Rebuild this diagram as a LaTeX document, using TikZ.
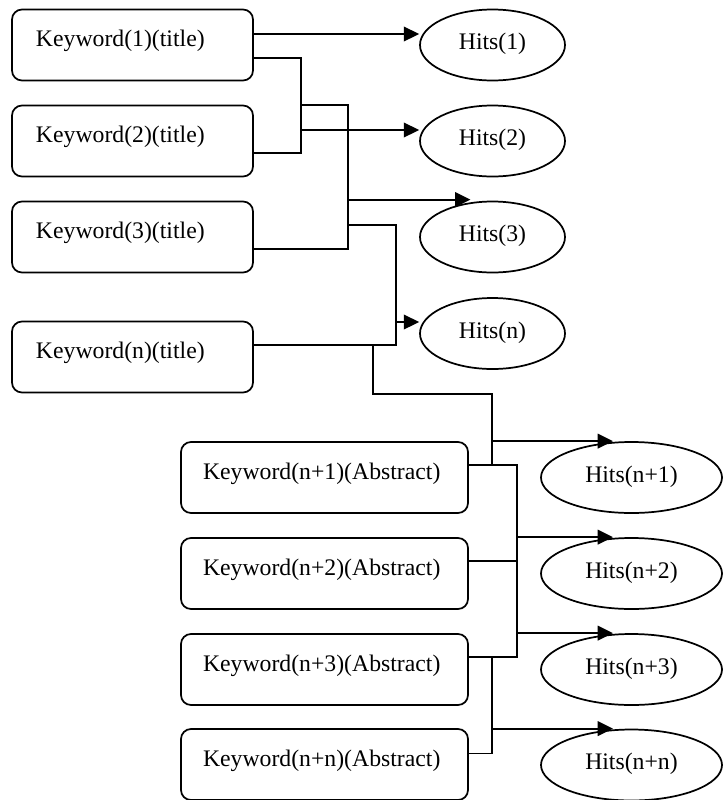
\documentclass[tikz,border=0pt]{standalone}
\usepackage{fontspec}
\setmainfont{Liberation Serif}
\usetikzlibrary{shapes.geometric,arrows.meta,calc}
\begin{document}
\begin{tikzpicture}[x=0.75pt,y=-0.75pt,
  every node/.style={font=\fontsize{17.8pt}{21pt}\selectfont},
  tbox/.style={draw,line width=1.3pt,rounded corners=7.5pt,inner ysep=0pt,
    inner xsep=18pt,text width=144.75pt,align=left,minimum height=53.25pt,
    text height=13pt,text depth=10.4pt},
  abox/.style={draw,line width=1.3pt,rounded corners=7.5pt,inner ysep=0pt,
    inner xsep=16.5pt,text width=182.25pt,align=left,minimum height=53.25pt,
    text height=13pt,text depth=10.4pt},
  hell/.style={draw,ellipse,line width=1.3pt,inner sep=0pt,minimum width=108.75pt,
    minimum height=53.25pt,text height=13pt,text depth=6.2pt},
  gell/.style={hell,minimum width=135.75pt},
  ln/.style={line width=1.3pt},
  arr/.style={line width=1.3pt,-{Triangle[length=11.5pt,width=11pt]}}
]
\useasboundingbox (0,0) rectangle (723,800);
% left boxes
\node[tbox] (K1) at (132.5,45) {Keyword(1)(title)};
\node[tbox] (K2) at (132.5,141) {Keyword(2)(title)};
\node[tbox] (K3) at (132.5,237) {Keyword(3)(title)};
\node[tbox] (Kn) at (132.5,357) {Keyword(n)(title)};
% bottom boxes
\node[abox] (M1) at (324.5,477.5) {Keyword(n+1)(Abstract)};
\node[abox] (M2) at (324.5,573.5) {Keyword(n+2)(Abstract)};
\node[abox] (M3) at (324.5,669.5) {Keyword(n+3)(Abstract)};
\node[abox] (M4) at (324.5,764.5) {Keyword(n+n)(Abstract)};
% top ellipses
\node[hell] (H1) at (492.5,45) {Hits(1)};
\node[hell] (H2) at (492.5,141) {Hits(2)};
\node[hell] (H3) at (492.5,237) {Hits(3)};
\node[hell] (Hn) at (492.5,333.5) {Hits(n)};
% bottom ellipses
\node[gell] (G1) at (631.5,477.5) {Hits(n+1)};
\node[gell] (G2) at (631.5,573.5) {Hits(n+2)};
\node[gell] (G3) at (631.5,669.5) {Hits(n+3)};
\node[gell] (G4) at (631.5,765) {Hits(n+n)};
% junction columns
\coordinate (j1) at (301,0);
\coordinate (j2) at (348,0);
\coordinate (j3) at (396,0);
\coordinate (j4) at (373,0);
\coordinate (j5) at (492,0);
\coordinate (j6) at (517,0);
\coordinate (t4) at (0,394);
% anchor points
\coordinate (k1a) at ($(K1.east)+(0,-11)$);
\coordinate (k1b) at ($(K1.east)+(0,13)$);
\coordinate (k2a) at ($(K2.east)+(0,12)$);
\coordinate (k3a) at ($(K3.east)+(0,12)$);
\coordinate (k3b) at ($(K3.east)+(0,-12)$);
\coordinate (kna) at ($(Kn.east)+(0,-12)$);
\coordinate (m1a) at ($(M1.east)+(0,-12.5)$);
\coordinate (m2a) at ($(M2.east)+(0,-12.5)$);
\coordinate (m3a) at ($(M3.east)+(0,-12.5)$);
\coordinate (m4a) at ($(M4.east)+(0,-11)$);
\coordinate (h1a) at ($(H1.west)+(0,-11)$);
\coordinate (h2a) at ($(H2.west)+(0,-11)$);
\coordinate (h3a) at ($(H3.north)+(-22,-1)$);
\coordinate (hna) at ($(Hn.west)+(0,-11.5)$);
\coordinate (g1a) at ($(G1.north)+(-18.5,0)$);
\coordinate (g2a) at ($(G2.north)+(-18.5,0)$);
\coordinate (g3a) at ($(G3.north)+(-18.5,0)$);
\coordinate (g4a) at ($(G4.north)+(-18.5,0)$);
% top connectors
\draw[arr] (k1a) -- (h1a);
\draw[ln] (k1b) -| (j1 |- k2a) -- (k2a);
\draw[arr] (j1 |- h2a) -- (h2a);
\draw[ln] (j1 |- K2.north) -| (j2 |- k3a) -- (k3a);
\draw[arr] (j2 |- h3a) -- (h3a);
\draw[ln] (j2 |- k3b) -| (j3 |- kna) -- (kna);
\draw[arr] (j3 |- hna) -- (hna);
\draw[ln] (j4 |- kna) |- (j5 |- t4) -- (j5 |- m1a);
\draw[arr] (j5 |- g1a) -- (g1a);
% bottom connectors
\draw[ln] (m1a) -| (j6 |- m3a) -- (m3a);
\draw[ln] (m2a) -- (j6 |- m2a);
\draw[arr] (j6 |- g2a) -- (g2a);
\draw[arr] (j6 |- g3a) -- (g3a);
\draw[ln] (j5 |- m3a) |- (m4a);
\draw[arr] (j5 |- g4a) -- (g4a);
\end{tikzpicture}
\end{document}
